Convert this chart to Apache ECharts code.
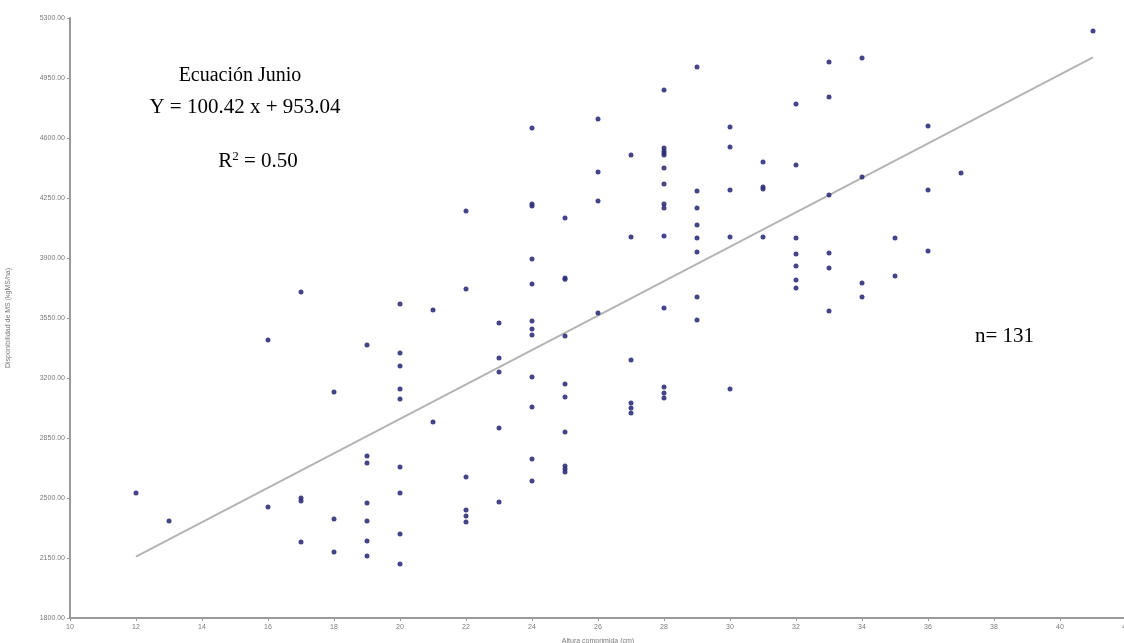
<!DOCTYPE html>
<html>
<head>
<meta charset="utf-8">
<script src="https://cdn.jsdelivr.net/npm/echarts@6/dist/echarts.min.js"></script>
<style>
  html, body { margin: 0; padding: 0; background: #fff; }
  #chart { width: 1124px; height: 643px; }
</style>
</head>
<body>
<div id="chart"></div>
<script>
// Altura comprimida (cm) por observación
const alturas = [
  12, 13,
  16, 16,
  17, 17, 17, 17,
  18, 18, 18,
  19, 19, 19, 19, 19, 19, 19,
  20, 20, 20, 20, 20, 20, 20, 20, 20,
  21, 21,
  22, 22, 22, 22, 22, 22,
  23, 23, 23, 23, 23,
  24, 24, 24, 24, 24, 24, 24, 24, 24, 24, 24, 24,
  25, 25, 25, 25, 25, 25, 25, 25, 25, 25,
  26, 26, 26, 26,
  27, 27, 27, 27, 27, 27,
  28, 28, 28, 28, 28, 28, 28, 28, 28, 28, 28, 28, 28, 28,
  29, 29, 29, 29, 29, 29, 29, 29,
  30, 30, 30, 30, 30,
  31, 31, 31, 31,
  32, 32, 32, 32, 32, 32, 32,
  33, 33, 33, 33, 33, 33,
  34, 34, 34, 34,
  35, 35,
  36, 36, 36,
  37,
  41
];

// Disponibilidad de MS (kgMS/ha) por observación
const disponibilidad = [
  2529, 2366,
  3422, 2447,
  3702, 2500, 2482, 2243,
  3118, 2378, 2185,
  3393, 2745, 2704, 2471, 2366, 2249, 2162,
  3632, 3346, 3270, 3136, 3078, 2681, 2529, 2290, 2115,
  3597, 2943,
  4174, 3719, 2622, 2430, 2395, 2360,
  3521, 3317, 3235, 2908, 2477,
  4658, 4215, 4203, 3894, 3748, 3532, 3486, 3451, 3206, 3031, 2728, 2599,
  4133, 3783, 3776, 3445, 3165, 3089, 2885, 2687, 2669, 2652,
  4711, 4402, 4233, 3579,
  4501, 4023, 3305, 3054, 3025, 2996,
  4880, 4542, 4524, 4512, 4501, 4425, 4332, 4215, 4192, 4028, 3608, 3147, 3113, 3083,
  5014, 4291, 4192, 4093, 4017, 3935, 3672, 3538,
  4664, 4548, 4297, 4023, 3136,
  4460, 4314, 4303, 4023,
  4799, 4443, 4017, 3923, 3853, 3772, 3725,
  5043, 4839, 4267, 3929, 3842, 3591,
  5067, 4372, 3754, 3672,
  4017, 3795,
  4670, 4297, 3941,
  4396,
  5224
];

// Recta de regresión (ecuación de junio) y su rango de alturas
const pendiente = 100.42;
const intercepto = 953.04;
const rectaDesde = 12;
const rectaHasta = 41;

// Escala vertical: 1800 a 5300 en pasos de 350
const yBase = 1800;
const yTope = 5300;
const yPaso = 350;

// Escala horizontal: 10 a 42 en pasos de 2
const xMin = 10;
const xMax = 42;
const xPaso = 2;

const textos = {
  titulo: 'Ecuación Junio',
  ecuacion: 'Y = 100.42 x + 953.04',
  r2: 'R{sup|2} = 0.50',
  n: 'n= 131',
  ejeX: 'Altura comprimida (cm)',
  ejeY: 'Disponibilidad de MS (kgMS/ha)'
};

// The value axis is offset by yBase so ticks start exactly at 1800
const puntos = alturas.map((x, i) => [x, disponibilidad[i] - yBase]);
const recta = [rectaDesde, rectaHasta].map(x => [x, pendiente * x + intercepto - yBase]);

const chart = echarts.init(document.getElementById('chart'), null, { renderer: 'canvas' });

const serif = '"Liberation Serif", "Times New Roman", serif';
const sans = 'Arial, "Liberation Sans", sans-serif';
const axisGray = '#9a9a9a';
const labelGray = '#7a7a7a';

chart.setOption({
  backgroundColor: '#ffffff',
  animation: false,
  grid: { left: 70, right: -2, top: 18, bottom: 25, containLabel: false, outerBoundsMode: 'none' },
  xAxis: {
    type: 'value',
    min: xMin,
    max: xMax,
    interval: xPaso,
    name: textos.ejeX,
    nameLocation: 'middle',
    nameGap: 20,
    nameTextStyle: { fontSize: 7, color: labelGray, fontFamily: sans },
    axisLine: { show: true, lineStyle: { color: axisGray, width: 2 } },
    axisTick: { show: true, length: 3, lineStyle: { color: axisGray } },
    axisLabel: { fontSize: 7, color: labelGray, margin: 6, showMaxLabel: true, fontFamily: sans },
    splitLine: { show: false }
  },
  yAxis: {
    type: 'value',
    min: 0,
    max: yTope - yBase,
    interval: yPaso,
    name: textos.ejeY,
    nameLocation: 'middle',
    nameRotate: 90,
    nameGap: 58,
    nameTextStyle: { fontSize: 7, color: labelGray, fontFamily: sans },
    axisLine: { show: true, lineStyle: { color: axisGray, width: 2 } },
    axisTick: { show: true, length: 3, lineStyle: { color: axisGray } },
    axisLabel: {
      fontSize: 7,
      color: labelGray,
      margin: 5,
      fontFamily: sans,
      formatter: v => (v + yBase).toFixed(2)
    },
    splitLine: { show: false }
  },
  series: [
    {
      type: 'line',
      data: recta,
      symbol: 'none',
      lineStyle: { color: '#b4b4b4', width: 2 },
      z: 1,
      silent: true
    },
    {
      type: 'scatter',
      data: puntos,
      symbol: 'circle',
      symbolSize: 5,
      itemStyle: { color: '#30307a', opacity: 0.9 },
      z: 2
    }
  ],
  graphic: [
    {
      type: 'text', x: 240, y: 76,
      style: { text: textos.titulo, font: '20px ' + serif, fill: '#000', align: 'center', verticalAlign: 'middle' }
    },
    {
      type: 'text', x: 245, y: 107,
      style: { text: textos.ecuacion, font: '21px ' + serif, fill: '#000', align: 'center', verticalAlign: 'middle' }
    },
    {
      type: 'text', x: 258, y: 161,
      style: {
        text: textos.r2, font: '21px ' + serif, fill: '#000', align: 'center', verticalAlign: 'middle',
        rich: { sup: { fontSize: 13, fontFamily: serif, verticalAlign: 'top', padding: [0, 0, 8, 0] } }
      }
    },
    {
      type: 'text', x: 975, y: 336,
      style: { text: textos.n, font: '21px ' + serif, fill: '#000', verticalAlign: 'middle' }
    }
  ]
});
</script>
</body>
</html>
